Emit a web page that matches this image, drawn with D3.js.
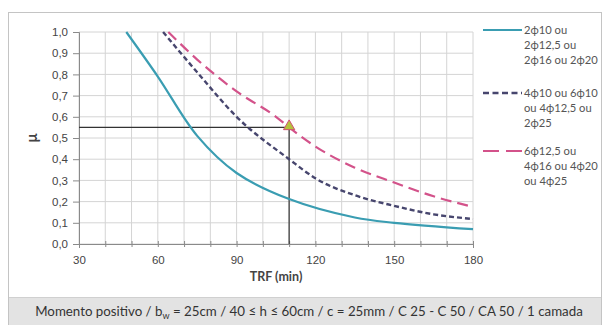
<!DOCTYPE html>
<html><head><meta charset="utf-8">
<script src="https://cdn.jsdelivr.net/npm/d3@7"></script>
<style>
html,body{margin:0;padding:0;background:#fff;}
svg{display:block;font-family:Lato,"Open Sans",sans-serif;}
</style></head>
<body>
<svg id="c" width="603" height="325"></svg>
<script>
const xTicks = [30, 60, 90, 120, 150, 180];
const yTicks = [0, 0.1, 0.2, 0.3, 0.4, 0.5, 0.6, 0.7, 0.8, 0.9, 1.0];
const s1x = [48, 60, 75, 90, 110, 135, 150, 180];
const s1y = [1.0, 0.79, 0.51, 0.335, 0.212, 0.125, 0.10, 0.07];
const s2x = [62, 75, 90, 110, 120, 135, 150, 165, 180];
const s2y = [1.0, 0.81, 0.60, 0.40, 0.31, 0.23, 0.18, 0.14, 0.118];
const s3x = [64, 75, 90, 105, 110, 120, 135, 150, 165, 180];
const s3y = [1.0, 0.87, 0.72, 0.60, 0.55, 0.46, 0.36, 0.29, 0.225, 0.175];
const legendLabels = [
  ["2\u03d510 ou", "2\u03d512,5 ou", "2\u03d516 ou 2\u03d520"],
  ["4\u03d510 ou 6\u03d510", "ou 4\u03d512,5 ou", "2\u03d525"],
  ["6\u03d512,5 ou", "4\u03d516 ou 4\u03d520", "ou 4\u03d525"]
];
const refPoint = {x: 110, y: 0.55};
const xTitle = "TRF (min)";
const yTitle = "\u03bc";

const svg = d3.select("#c");
const x = d3.scaleLinear().domain([30, 180]).range([79, 473]);
const y = d3.scaleLinear().domain([0, 1]).range([244, 32]);

// outer frame + caption band
svg.append("rect").attr("x", 8.5).attr("y", 12.5).attr("width", 593).attr("height", 313)
  .attr("fill", "#fff").attr("stroke", "#c4c4c4");
svg.append("rect").attr("x", 9).attr("y", 298).attr("width", 592).attr("height", 27)
  .attr("fill", "#e3e3e3");
svg.append("line").attr("x1", 9).attr("x2", 601).attr("y1", 297.5).attr("y2", 297.5).attr("stroke", "#d0d0d0");

// grid
const gx = d3.range(30, 181, 10);
svg.append("g").selectAll("line").data(gx).join("line")
  .attr("x1", d => x(d)).attr("x2", d => x(d)).attr("y1", y(1)).attr("y2", y(0))
  .attr("stroke", "#d4d4d4").attr("stroke-width", 1);
svg.append("g").selectAll("line").data(yTicks).join("line")
  .attr("x1", x(30)).attr("x2", x(180)).attr("y1", d => y(d)).attr("y2", d => y(d))
  .attr("stroke", "#d4d4d4").attr("stroke-width", 1);

// axes
const ya = svg.append("g").attr("transform", `translate(${x(30)},0)`)
  .call(d3.axisLeft(y).tickValues(yTicks).tickSize(6).tickPadding(5)
    .tickFormat(d => d3.format(".1f")(d).replace(".", ",")));
const xa = svg.append("g").attr("transform", `translate(0,${y(0)})`)
  .call(d3.axisBottom(x).tickValues(gx).tickSize(4).tickPadding(8)
    .tickFormat(d => xTicks.includes(d) ? d : ""));
[ya, xa].forEach(a => {
  a.select(".domain").attr("stroke", "#8a8a8a");
  a.selectAll(".tick line").attr("stroke", "#8a8a8a");
  a.selectAll("text").attr("fill", "#444").attr("font-size", 11.5);
});
xa.selectAll(".tick line").attr("y1", -3).attr("y2", 3);

// reference lines
svg.append("line").attr("x1", x(30)).attr("x2", x(refPoint.x))
  .attr("y1", y(refPoint.y)).attr("y2", y(refPoint.y)).attr("stroke", "#333").attr("stroke-width", 1.2);
svg.append("line").attr("x1", x(refPoint.x)).attr("x2", x(refPoint.x))
  .attr("y1", y(refPoint.y)).attr("y2", y(0)).attr("stroke", "#333").attr("stroke-width", 1.2);

// series
const smooth = d3.line().x(d => x(d[0])).y(d => y(d[1])).curve(d3.curveMonotoneX);
const straight = d3.line().x(d => x(d[0])).y(d => y(d[1])).curve(d3.curveCatmullRom.alpha(0.5));
const series = [
  {xs: s1x, ys: s1y, color: "#3a9db2", dash: null, w: 2.2, gen: straight},
  {xs: s2x, ys: s2y, color: "#47466e", dash: "5,3", w: 2.4, gen: smooth},
  {xs: s3x, ys: s3y, color: "#d3528a", dash: "11,6", w: 2.2, gen: smooth}
];
series.forEach(s => {
  const p = svg.append("path").datum(s.xs.map((v, i) => [v, s.ys[i]]))
    .attr("d", s.gen).attr("fill", "none").attr("stroke", s.color).attr("stroke-width", s.w);
  if (s.dash) p.attr("stroke-dasharray", s.dash);
});

// marker
svg.append("path").attr("d", d3.symbol().type(d3.symbolTriangle).size(55)())
  .attr("transform", `translate(${x(refPoint.x)},${y(refPoint.y) - 1})`)
  .attr("fill", "#b5c23e").attr("stroke", "#d05070").attr("stroke-width", 1);

// titles
svg.append("text").attr("x", 276).attr("y", 281).attr("text-anchor", "middle")
  .attr("font-size", 12.5).attr("font-weight", "bold").attr("fill", "#444").text(xTitle);
svg.append("text").attr("transform", "translate(37,138) rotate(-90)").attr("text-anchor", "middle")
  .attr("font-size", 15).attr("font-weight", "bold").attr("fill", "#444").text(yTitle);

// legend
const legTop = [34, 97, 155];
series.forEach((s, i) => {
  const ly = legTop[i] - 4;
  const l = svg.append("line").attr("x1", 483).attr("x2", 522).attr("y1", ly).attr("y2", ly)
    .attr("stroke", s.color).attr("stroke-width", s.w);
  if (s.dash) l.attr("stroke-dasharray", i === 1 ? "6,3.5" : "16,7");
  legendLabels[i].forEach((t, j) => {
    svg.append("text").attr("x", 524).attr("y", legTop[i] + j * 15)
      .attr("font-size", 11.2).attr("fill", "#555").text(t);
  });
});

// caption
const cap = svg.append("text").attr("x", 309).attr("y", 316).attr("text-anchor", "middle")
  .attr("font-size", 13.3).attr("fill", "#333");
cap.append("tspan").text("Momento positivo / b");
cap.append("tspan").attr("font-size", 9).attr("dy", 3).text("w");
cap.append("tspan").attr("dy", -3).text(" = 25cm / 40 \u2264 h \u2264 60cm / c = 25mm / C 25 - C 50 / CA 50 / 1 camada");
</script>
</body></html>
